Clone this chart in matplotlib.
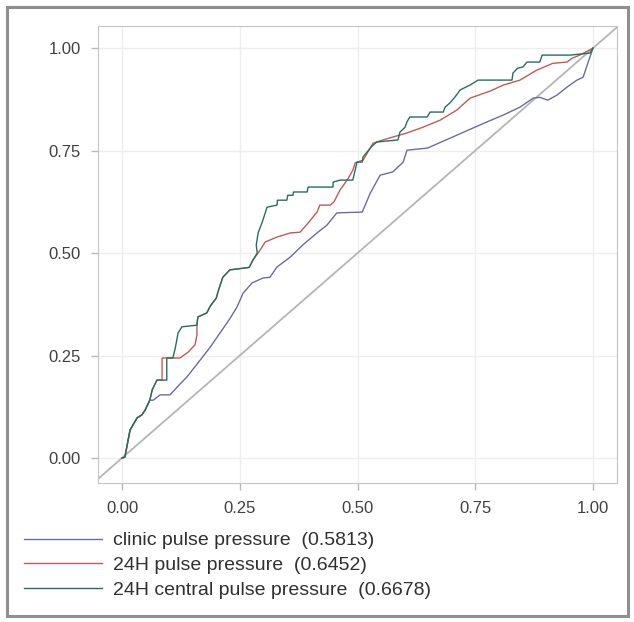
import matplotlib
matplotlib.use("Agg")
import matplotlib.pyplot as plt
from matplotlib.patches import Rectangle

# ROC points (1 - specificity, sensitivity)
clinic_fpr = [0, 0.006, 0.017, 0.032, 0.042, 0.049, 0.059, 0.066, 0.081, 0.102, 0.117, 0.138,
              0.166, 0.187, 0.214, 0.229, 0.244, 0.257, 0.276, 0.299, 0.314, 0.329, 0.357,
              0.384, 0.414, 0.435, 0.456, 0.51, 0.527, 0.548, 0.575, 0.597, 0.605, 0.648,
              0.696, 0.745, 0.775, 0.81, 0.845, 0.873, 0.887, 0.904, 0.923, 0.945, 0.966,
              0.979, 0.989, 1.0]
clinic_tpr = [0, 0.002, 0.068, 0.098, 0.105, 0.117, 0.141, 0.141, 0.154, 0.154, 0.173, 0.198,
              0.239, 0.27, 0.315, 0.34, 0.368, 0.402, 0.427, 0.439, 0.441, 0.466, 0.49,
              0.52, 0.549, 0.568, 0.598, 0.6, 0.646, 0.69, 0.698, 0.722, 0.751, 0.756,
              0.78, 0.805, 0.82, 0.837, 0.856, 0.878, 0.88, 0.873, 0.885, 0.905, 0.922,
              0.929, 0.963, 1.0]

pp24_fpr = [0, 0.006, 0.017, 0.032, 0.042, 0.049, 0.059, 0.064, 0.074, 0.085, 0.085, 0.108,
            0.123, 0.14, 0.155, 0.159, 0.159, 0.161, 0.18, 0.187, 0.2, 0.205, 0.214, 0.229,
            0.257, 0.27, 0.278, 0.293, 0.304, 0.329, 0.357, 0.378, 0.395, 0.414, 0.42,
            0.442, 0.45, 0.463, 0.478, 0.49, 0.495, 0.512, 0.533, 0.554, 0.575, 0.605,
            0.639, 0.675, 0.711, 0.739, 0.781, 0.81, 0.845, 0.88, 0.915, 0.945, 0.955,
            0.972, 1.0]
pp24_tpr = [0, 0.002, 0.068, 0.098, 0.105, 0.117, 0.141, 0.166, 0.19, 0.19, 0.244, 0.244,
            0.244, 0.258, 0.276, 0.3, 0.324, 0.344, 0.354, 0.37, 0.39, 0.41, 0.441, 0.459,
            0.463, 0.465, 0.483, 0.507, 0.527, 0.539, 0.549, 0.551, 0.573, 0.6, 0.617,
            0.617, 0.625, 0.654, 0.678, 0.702, 0.72, 0.727, 0.768, 0.776, 0.783, 0.793,
            0.807, 0.824, 0.849, 0.878, 0.895, 0.91, 0.922, 0.946, 0.963, 0.966, 0.975,
            0.983, 1.0]

central_fpr = [0, 0.006, 0.017, 0.032, 0.042, 0.049, 0.059, 0.064, 0.074, 0.095, 0.095, 0.108,
               0.113, 0.119, 0.127, 0.159, 0.161, 0.18, 0.187, 0.2, 0.205, 0.214, 0.229,
               0.257, 0.27, 0.278, 0.287, 0.285, 0.289, 0.299, 0.308, 0.329, 0.33, 0.35,
               0.352, 0.363, 0.364, 0.393, 0.395, 0.448, 0.448, 0.463, 0.49, 0.499, 0.51,
               0.512, 0.52, 0.53, 0.541, 0.586, 0.59, 0.601, 0.605, 0.611, 0.648, 0.654,
               0.682, 0.686, 0.696, 0.705, 0.713, 0.718, 0.739, 0.756, 0.828, 0.83, 0.84,
               0.851, 0.86, 0.887, 0.892, 0.951, 0.994, 1.0]
central_tpr = [0, 0.002, 0.068, 0.098, 0.105, 0.117, 0.141, 0.166, 0.19, 0.19, 0.244, 0.244,
               0.268, 0.305, 0.32, 0.324, 0.344, 0.354, 0.37, 0.39, 0.41, 0.441, 0.459,
               0.463, 0.465, 0.483, 0.5, 0.52, 0.549, 0.58, 0.612, 0.617, 0.629, 0.629,
               0.641, 0.641, 0.649, 0.649, 0.661, 0.661, 0.673, 0.678, 0.678, 0.722, 0.722,
               0.735, 0.746, 0.76, 0.771, 0.776, 0.795, 0.807, 0.82, 0.832, 0.832, 0.844,
               0.844, 0.856, 0.866, 0.878, 0.89, 0.898, 0.91, 0.922, 0.922, 0.939, 0.951,
               0.954, 0.966, 0.966, 0.983, 0.983, 0.988, 1.0]

labels = ["clinic pulse pressure  (0.5813)",
          "24H pulse pressure  (0.6452)",
          "24H central pulse pressure  (0.6678)"]
colors = ["#6b6ba6", "#c25a58", "#24705f"]
ticks = [0.0, 0.25, 0.5, 0.75, 1.0]
tick_labels = ["0.00", "0.25", "0.50", "0.75", "1.00"]

plt.rcParams['font.family'] = ['Liberation Sans', 'DejaVu Sans']

fig = plt.figure(figsize=(6.34, 6.22), dpi=100)
ax = fig.add_axes([0.1546, 0.2235, 0.8186, 0.7347])

# chance line across the whole frame
ax.plot([-0.1, 1.1], [-0.1, 1.1], color="#b5b5b5", lw=1.3, zorder=1)

ax.plot(clinic_fpr, clinic_tpr, color=colors[0], lw=1.0, label=labels[0], zorder=3)
ax.plot(pp24_fpr, pp24_tpr, color=colors[1], lw=1.0, label=labels[1], zorder=3)
ax.plot(central_fpr, central_tpr, color=colors[2], lw=1.0, label=labels[2], zorder=4)

ax.set_xlim(-0.051, 1.051)
ax.set_ylim(-0.061, 1.054)
ax.set_xticks(ticks)
ax.set_xticklabels(tick_labels)
ax.set_yticks(ticks)
ax.set_yticklabels(tick_labels)
ax.grid(True, color="#eeeeee", lw=1.0, zorder=0)
ax.set_axisbelow(True)
for sp in ax.spines.values():
    sp.set_color("#c4c4c4")
ax.tick_params(axis="both", length=5, width=1, color="#b8b8b8",
               labelcolor="#404040", labelsize=12)
ax.tick_params(axis="y", pad=7.5)
ax.tick_params(axis="x", pad=8)

fig.legend(loc="upper left", bbox_to_anchor=(0.0379, 0.145), frameon=False,
           borderaxespad=0, borderpad=0, handlelength=4.0, handletextpad=0.55,
           labelspacing=0.36, fontsize=14, labelcolor="#303030")

# grey frame around the picture
fig.patches.append(Rectangle((6.5 / 634, 6.5 / 622), 621 / 634, 609 / 622,
                             transform=fig.transFigure, fill=False,
                             edgecolor="#8f8f8f", lw=2.2))

plt.savefig("out.png", dpi=100)
